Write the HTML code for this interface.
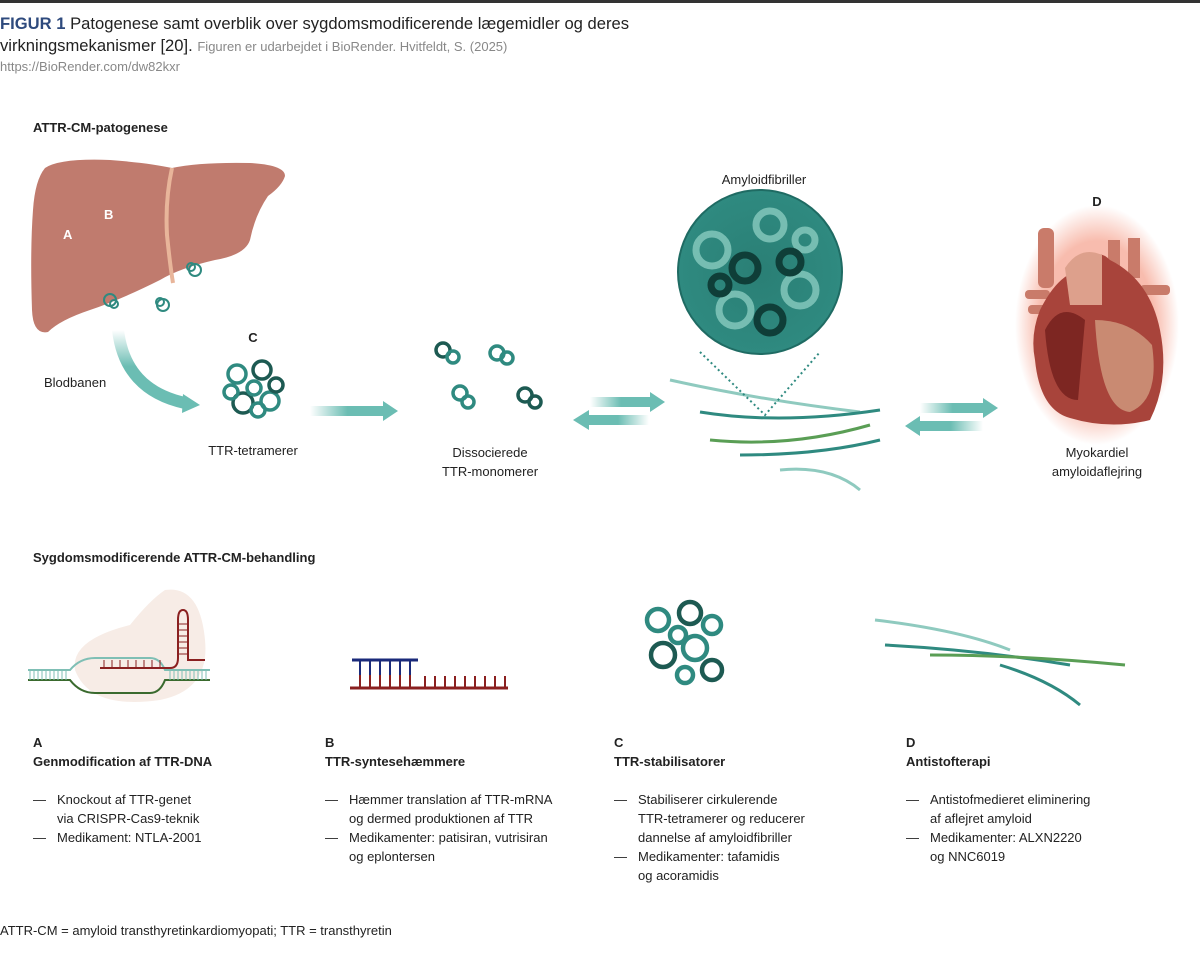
<!DOCTYPE html>
<html><head><meta charset="utf-8"><style>
body{margin:0;width:1200px;height:953px;background:#fff;position:relative;overflow:hidden;font-family:"Liberation Sans",Arial,sans-serif;color:#222}
.t{position:absolute;white-space:nowrap}
.b{font-weight:bold}
.c{text-align:center;transform:translateX(-50%)}
.s13{font-size:13px}
ul{list-style:none;margin:0;padding:0}
.col{position:absolute;top:733px;font-size:13px;line-height:19px}
.col li{position:relative;padding-left:24px}
.col li:before{content:"—";position:absolute;left:0}
</style></head><body>
<div style="position:absolute;left:0;top:0;width:1200px;height:3px;background:#333"></div>
<div class="t" style="left:0;top:13px;font-size:16.6px;line-height:22px;color:#222"><span class="b" style="color:#2e4a7d">FIGUR 1</span> Patogenese samt overblik over sygdomsmodificerende lægemidler og deres<br>virkningsmekanismer [20]. <span style="font-size:13px;color:#888">Figuren er udarbejdet i BioRender. Hvitfeldt, S. (2025)</span></div>
<div class="t" style="left:0;top:59px;font-size:13px;color:#888">https://BioRender.com/dw82kxr</div>

<div class="t b s13" style="left:33px;top:120px">ATTR-CM-patogenese</div>

<svg style="position:absolute;left:0;top:0" width="1200" height="953">
<defs>
<linearGradient id="ga" x1="0" x2="1"><stop offset="0" stop-color="#6bbdb3" stop-opacity="0"/><stop offset=".5" stop-color="#6bbdb3"/></linearGradient>
<linearGradient id="gb" x1="1" x2="0"><stop offset="0" stop-color="#6bbdb3" stop-opacity="0"/><stop offset=".5" stop-color="#6bbdb3"/></linearGradient>
<linearGradient id="gc" x1="0" y1="0" x2="0" y2="1"><stop offset="0" stop-color="#6bbdb3" stop-opacity="0"/><stop offset=".5" stop-color="#6bbdb3"/></linearGradient>
<radialGradient id="glow"><stop offset=".7" stop-color="#f06a4a" stop-opacity=".45"/><stop offset="1" stop-color="#f06a4a" stop-opacity="0"/></radialGradient>
<radialGradient id="cz"><stop offset="0" stop-color="#2a7f75"/><stop offset="1" stop-color="#2f8a80"/></radialGradient>
</defs>
<!-- liver -->
<path d="M45 168 Q60 158 110 160 Q150 163 172 168 Q200 162 250 163 Q285 165 285 176 Q282 186 268 196 Q255 215 250 240 Q245 255 215 260 Q180 268 160 280 Q120 300 90 310 Q60 320 48 332 Q33 335 32 310 Q30 250 33 210 Q35 180 45 168Z" fill="#c07b6e"/>
<path d="M172 168 Q165 200 167 235 Q170 265 173 283" stroke="#e8b59a" stroke-width="4" fill="none"/>
<text x="63" y="239" fill="#fff" font-size="13" font-weight="bold" font-family="Liberation Sans">A</text>
<text x="104" y="219" fill="#fff" font-size="13" font-weight="bold" font-family="Liberation Sans">B</text>
<g fill="none" stroke="#2f8a80" stroke-width="2"><circle cx="110" cy="300" r="6"/><circle cx="114" cy="304" r="4"/><circle cx="163" cy="305" r="6"/><circle cx="160" cy="302" r="4"/><circle cx="195" cy="270" r="6"/><circle cx="191" cy="267" r="4"/></g>
<!-- blood arrow -->
<path d="M118 330 Q125 390 185 403" stroke="url(#gc)" stroke-width="12" fill="none"/>
<path d="M183 394 L200 405 L182 413Z" fill="#6bbdb3"/>
<!-- tetramer -->
<g fill="none" stroke-width="3.5"><circle cx="237" cy="374" r="9" stroke="#2f8a80"/><circle cx="262" cy="370" r="9" stroke="#1d5a52"/><circle cx="243" cy="403" r="10" stroke="#1d5a52"/><circle cx="270" cy="401" r="9" stroke="#2f8a80"/><circle cx="254" cy="388" r="7" stroke="#2f8a80"/><circle cx="231" cy="392" r="7" stroke="#2f8a80"/><circle cx="276" cy="385" r="7" stroke="#1d5a52"/><circle cx="258" cy="410" r="7" stroke="#2f8a80"/></g>
<!-- arrow -->
<rect x="310" y="406" width="75" height="10" fill="url(#ga)"/><path d="M383 401 L398 411 L383 421Z" fill="#6bbdb3"/>
<!-- monomers -->
<g fill="none" stroke-width="3.5"><circle cx="443" cy="350" r="7" stroke="#1d5a52"/><circle cx="453" cy="357" r="6" stroke="#2f8a80"/><circle cx="497" cy="353" r="7" stroke="#2f8a80"/><circle cx="507" cy="358" r="6" stroke="#2f8a80"/><circle cx="460" cy="393" r="7" stroke="#2f8a80"/><circle cx="468" cy="402" r="6" stroke="#2f8a80"/><circle cx="525" cy="395" r="7" stroke="#1d5a52"/><circle cx="535" cy="402" r="6" stroke="#1d5a52"/></g>
<!-- double arrows -->
<rect x="590" y="397" width="62" height="10" fill="url(#ga)"/><path d="M650 392 L665 402 L650 412Z" fill="#6bbdb3"/>
<rect x="587" y="415" width="62" height="10" fill="url(#gb)"/><path d="M589 410 L573 420 L589 430Z" fill="#6bbdb3"/>
<rect x="920" y="403" width="65" height="10" fill="url(#ga)"/><path d="M983 398 L998 408 L983 418Z" fill="#6bbdb3"/>
<rect x="918" y="421" width="65" height="10" fill="url(#gb)"/><path d="M920 416 L905 426 L920 436Z" fill="#6bbdb3"/>
<!-- fibrils -->
<g fill="none" stroke-width="3"><path d="M670 380 Q760 400 860 412" stroke="#8fcabf"/><path d="M700 412 Q780 425 880 410" stroke="#2f8a80"/><path d="M710 440 Q790 448 870 425" stroke="#5a9e55"/><path d="M740 455 Q820 455 880 440" stroke="#2f8a80"/><path d="M780 470 Q830 465 860 490" stroke="#8fcabf"/></g>
<path d="M700 352 L765 415 L820 352" stroke="#2f8a80" stroke-dasharray="2 3" fill="none" stroke-width="2"/>
<circle cx="760" cy="272" r="82" fill="url(#cz)" stroke="#1f6b63" stroke-width="2"/>
<g fill="none" stroke="#8fd0c4" stroke-width="7" opacity=".75"><circle cx="712" cy="250" r="16"/><circle cx="770" cy="225" r="14"/><circle cx="800" cy="290" r="16"/><circle cx="735" cy="310" r="16"/><circle cx="805" cy="240" r="10"/></g>
<g fill="none" stroke="#0f3e38" stroke-width="7"><circle cx="745" cy="268" r="13"/><circle cx="790" cy="262" r="11"/><circle cx="770" cy="320" r="13"/><circle cx="720" cy="285" r="9"/></g>
<!-- heart -->
<ellipse cx="1097" cy="325" rx="82" ry="120" fill="url(#glow)"/>
<g fill="#c97b6a"><rect x="1038" y="228" width="16" height="60" rx="6"/><rect x="1108" y="240" width="12" height="50"/><rect x="1128" y="238" width="12" height="40"/><rect x="1140" y="285" width="30" height="10" rx="4"/><rect x="1025" y="290" width="25" height="9" rx="4"/><rect x="1028" y="305" width="25" height="9" rx="4"/></g>
<path d="M1040 310 Q1060 270 1085 270 Q1095 245 1110 260 Q1150 280 1160 330 Q1170 380 1150 420 Q1110 430 1070 418 Q1040 410 1035 360 Q1030 335 1040 310Z" fill="#a8443b"/>
<path d="M1045 330 Q1060 300 1085 320 L1078 400 Q1050 400 1045 330Z" fill="#7d2622"/>
<path d="M1095 320 Q1130 320 1152 345 Q1160 400 1130 412 Q1100 410 1095 320Z" fill="#c98a72"/>
<path d="M1065 268 Q1080 245 1102 255 L1102 305 L1070 305Z" fill="#dda08c"/>
</svg>

<div class="t b s13 c" style="left:253px;top:330px">C</div>
<div class="t s13" style="left:44px;top:375px">Blodbanen</div>
<div class="t s13 c" style="left:253px;top:443px">TTR-tetramerer</div>
<div class="t s13 c" style="left:490px;top:443px;text-align:center;line-height:19px">Dissocierede<br>TTR-monomerer</div>
<div class="t s13 c" style="left:764px;top:172px">Amyloidfibriller</div>
<div class="t b s13 c" style="left:1097px;top:194px">D</div>
<div class="t s13 c" style="left:1097px;top:443px;text-align:center;line-height:19px">Myokardiel<br>amyloidaflejring</div>

<div class="t b s13" style="left:33px;top:550px">Sygdomsmodificerende ATTR-CM-behandling</div>

<svg style="position:absolute;left:0;top:580px" width="1200" height="140">
<path d="M75 90 Q70 60 130 45 Q150 20 165 10 Q200 5 205 60 Q210 110 160 120 Q90 130 75 90Z" fill="#f7ece6"/>
<g stroke-width="2" fill="none">
<path d="M28 90 L70 90 Q80 78 95 78 L150 78 Q160 78 165 90 L210 90" stroke="#7fbfb5"/>
<path d="M28 100 L70 100 Q80 113 95 113 L150 113 Q160 113 165 100 L210 100" stroke="#3a6a2e"/>
<path d="M100 88 L170 88 Q178 88 178 78 L178 40 Q178 30 183 30 Q188 30 188 40 L188 80 L205 80" stroke="#8a2020"/>
<path d="M352 80 L418 80" stroke="#1a2a7a" stroke-width="3"/>
<path d="M350 108 L508 108" stroke="#8a2020" stroke-width="3"/>
</g>
<g stroke="#7fbfb5" stroke-width="1"><path d="M30 90v10M34 90v10M38 90v10M42 90v10M46 90v10M50 90v10M54 90v10M58 90v10M62 90v10M66 90v10M170 90v10M174 90v10M178 90v10M182 90v10M186 90v10M190 90v10M194 90v10M198 90v10M202 90v10M206 90v10"/></g>
<g stroke="#8a2020" stroke-width="1"><path d="M178 44h10M178 50h10M178 56h10M178 62h10M178 68h10M178 74h10M104 88v-8M112 88v-8M120 88v-8M128 88v-8M136 88v-8M144 88v-8M152 88v-8M160 88v-8"/></g>
<g stroke="#8a2020" stroke-width="2"><path d="M360 108V95M370 108V95M380 108V95M390 108V95M400 108V95M410 108V95M425 108V96M435 108V96M445 108V96M455 108V96M465 108V96M475 108V96M485 108V96M495 108V96M505 108V96"/></g>
<g stroke="#1a2a7a" stroke-width="2"><path d="M360 80V95M370 80V95M380 80V95M390 80V95M400 80V95M410 80V95"/></g>
<g fill="none" stroke-width="4.5"><circle cx="658" cy="40" r="11" stroke="#2f8a80"/><circle cx="690" cy="33" r="11" stroke="#1d5a52"/><circle cx="663" cy="75" r="12" stroke="#1d5a52"/><circle cx="695" cy="68" r="12" stroke="#2f8a80"/><circle cx="678" cy="55" r="8" stroke="#2f8a80"/><circle cx="712" cy="90" r="10" stroke="#1d5a52"/><circle cx="712" cy="45" r="9" stroke="#2f8a80"/><circle cx="685" cy="95" r="8" stroke="#2f8a80"/></g>
<g fill="none" stroke-width="3"><path d="M875 40 Q960 50 1010 70" stroke="#8fcabf"/><path d="M885 65 Q980 70 1070 85" stroke="#2f8a80"/><path d="M930 75 Q1020 75 1125 85" stroke="#5a9e55"/><path d="M1000 85 Q1050 100 1080 125" stroke="#2f8a80"/></g>
</svg>

<div class="col" style="left:33px"><div class="b">A<br>Genmodification af TTR-DNA</div><ul style="margin-top:19px"><li>Knockout af TTR-genet<br>via CRISPR-Cas9-teknik</li><li>Medikament: NTLA-2001</li></ul></div>
<div class="col" style="left:325px"><div class="b">B<br>TTR-syntesehæmmere</div><ul style="margin-top:19px"><li>Hæmmer translation af TTR-mRNA<br>og dermed produktionen af TTR</li><li>Medikamenter: patisiran, vutrisiran<br>og eplontersen</li></ul></div>
<div class="col" style="left:614px"><div class="b">C<br>TTR-stabilisatorer</div><ul style="margin-top:19px"><li>Stabiliserer cirkulerende<br>TTR-tetramerer og reducerer<br>dannelse af amyloidfibriller</li><li>Medikamenter: tafamidis<br>og acoramidis</li></ul></div>
<div class="col" style="left:906px"><div class="b">D<br>Antistofterapi</div><ul style="margin-top:19px"><li>Antistofmedieret eliminering<br>af aflejret amyloid</li><li>Medikamenter: ALXN2220<br>og NNC6019</li></ul></div>

<div class="t s13" style="left:0;top:923px">ATTR-CM = amyloid transthyretinkardiomyopati; TTR = transthyretin</div>
</body></html>
